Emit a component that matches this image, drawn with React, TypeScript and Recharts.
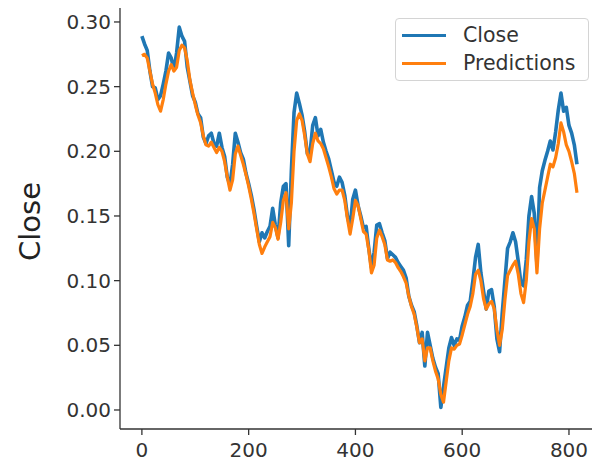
import React from 'react';
import { LineChart, Line, XAxis, YAxis, Legend } from 'recharts';

// Close values sampled every 5 index steps (0, 5, 10, ... 815)
const closeValues = [
  0.289, 0.283, 0.278, 0.262, 0.250, 0.249, 0.240, 0.243, 0.252, 0.262,
  0.276, 0.272, 0.263, 0.276, 0.296, 0.289, 0.285, 0.265, 0.254, 0.243,
  0.238, 0.229, 0.226, 0.211, 0.206, 0.212, 0.214, 0.206, 0.204, 0.214,
  0.203, 0.196, 0.180, 0.174, 0.190, 0.214, 0.207, 0.199, 0.194, 0.183,
  0.175, 0.166, 0.155, 0.142, 0.130, 0.137, 0.133, 0.138, 0.142, 0.156,
  0.143, 0.133, 0.160, 0.173, 0.175, 0.127, 0.185, 0.230, 0.245, 0.237,
  0.228, 0.215, 0.198, 0.199, 0.220, 0.226, 0.212, 0.217, 0.207, 0.200,
  0.194, 0.185, 0.176, 0.173, 0.180, 0.176, 0.166, 0.150, 0.141, 0.163,
  0.170, 0.158, 0.150, 0.141, 0.142, 0.125, 0.110, 0.122, 0.143, 0.144,
  0.137, 0.131, 0.117, 0.122, 0.120, 0.118, 0.114, 0.111, 0.108, 0.102,
  0.088, 0.081, 0.076, 0.065, 0.052, 0.060, 0.034, 0.060, 0.050, 0.040,
  0.033, 0.028, 0.002, 0.018, 0.033, 0.048, 0.056, 0.050, 0.055, 0.054,
  0.065, 0.072, 0.081, 0.084, 0.100, 0.118, 0.128, 0.106, 0.092, 0.078,
  0.092, 0.093, 0.080, 0.055, 0.045, 0.075, 0.100, 0.125, 0.130, 0.137,
  0.130, 0.115, 0.098, 0.096, 0.116, 0.150, 0.165, 0.152, 0.112, 0.172,
  0.185, 0.193, 0.200, 0.208, 0.201, 0.215, 0.232, 0.245, 0.231, 0.234,
  0.220, 0.214, 0.205, 0.190,
];

const predictionValues = [
  0.274, 0.275, 0.272, 0.262, 0.252, 0.245, 0.236, 0.231, 0.240, 0.252,
  0.262, 0.267, 0.262, 0.265, 0.278, 0.282, 0.280, 0.270, 0.255, 0.245,
  0.236, 0.228, 0.222, 0.212, 0.205, 0.204, 0.207, 0.203, 0.199, 0.203,
  0.200, 0.192, 0.180, 0.170, 0.178, 0.198, 0.204, 0.197, 0.190, 0.182,
  0.173, 0.163, 0.152, 0.140, 0.128, 0.121, 0.126, 0.130, 0.134, 0.145,
  0.141, 0.132, 0.145, 0.162, 0.168, 0.140, 0.160, 0.200, 0.224, 0.229,
  0.224, 0.212, 0.198, 0.192, 0.206, 0.214, 0.208, 0.206, 0.202, 0.195,
  0.188, 0.180, 0.171, 0.167, 0.170, 0.170, 0.162, 0.148, 0.136, 0.148,
  0.162, 0.158, 0.148, 0.138, 0.136, 0.124, 0.106, 0.112, 0.133, 0.139,
  0.134, 0.128, 0.116, 0.115, 0.116, 0.114, 0.110, 0.107, 0.103, 0.098,
  0.088, 0.080, 0.074, 0.064, 0.052, 0.055, 0.038, 0.048, 0.048, 0.038,
  0.030, 0.024, 0.012, 0.006, 0.022, 0.038, 0.048, 0.047, 0.050, 0.051,
  0.058, 0.066, 0.074, 0.080, 0.090, 0.105, 0.108, 0.100, 0.086, 0.078,
  0.082, 0.084, 0.078, 0.062, 0.050, 0.062, 0.085, 0.104, 0.108, 0.112,
  0.115, 0.105, 0.090, 0.083, 0.100, 0.130, 0.148, 0.140, 0.106, 0.140,
  0.160, 0.170, 0.180, 0.190, 0.188, 0.195, 0.206, 0.222, 0.215, 0.205,
  0.200, 0.192, 0.183, 0.168,
];

const sampleStep = 5;
const xTicks = [0, 200, 400, 600, 800];
const yTicks = [0, 0.05, 0.1, 0.15, 0.2, 0.25, 0.3];
const seriesNames = ['Close', 'Predictions'];
const seriesColors = ['#1f77b4', '#ff7f0e'];
const yAxisTitle = 'Close';

const data = closeValues.map((c, i) => ({
  idx: i * sampleStep,
  Close: c,
  Predictions: predictionValues[i],
}));

const FONT = '"DejaVu Sans", sans-serif';
const AXIS = '#333333';

const LegendBox = () => (
  <div
    style={{
      width: 194,
      height: 63,
      boxSizing: 'border-box',
      border: '1px solid #d4d4d4',
      borderRadius: 4,
      background: 'rgba(255,255,255,0.85)',
      fontFamily: FONT,
      fontSize: 20.5,
      color: '#333',
      padding: '2px 0 0 6px',
    }}
  >
    {seriesNames.map((n, i) => (
      <div key={n} style={{ display: 'flex', alignItems: 'center', height: 28 }}>
        <div style={{ width: 44, height: 3, background: seriesColors[i], marginRight: 17 }} />
        <span>{n}</span>
      </div>
    ))}
  </div>
);

const YTitle = (props: any) => {
  const vb = props.viewBox || { x: 0, y: 0, width: 120, height: 421 };
  const cx = 30;
  const cy = vb.y + vb.height / 2 + 3;
  return (
    <text
      x={cx}
      y={cy}
      transform={`rotate(-90, ${cx}, ${cy})`}
      textAnchor="middle"
      dominantBaseline="central"
      fontFamily={FONT}
      fontSize={29}
      fill="#222"
    >
      {yAxisTitle}
    </text>
  );
};

export default function App() {
  return (
    <div
      style={{
        position: 'absolute',
        left: 0,
        top: 0,
        width: 592,
        height: 464,
        overflow: 'hidden',
        background: '#fff',
      }}
    >
      <LineChart
        width={610}
        height={464}
        data={data}
        margin={{ top: 8, right: 9, bottom: 5, left: 0 }}
      >
        <XAxis
          dataKey="idx"
          type="number"
          domain={[-41, 860]}
          allowDataOverflow
          ticks={xTicks}
          height={30}
          tickSize={6}
          tickMargin={8}
          stroke={AXIS}
          axisLine={{ stroke: AXIS, strokeWidth: 1.3 }}
          tickLine={{ stroke: AXIS, strokeWidth: 1.3 }}
          tick={{ fill: '#333', fontSize: 20, fontFamily: FONT }}
        />
        <XAxis
          xAxisId="top"
          dataKey="idx"
          type="number"
          domain={[-41, 860]}
          allowDataOverflow
          orientation="top"
          height={0}
          tick={false}
          tickLine={false}
          axisLine={{ stroke: AXIS, strokeWidth: 1.3 }}
        />
        <YAxis
          type="number"
          domain={[-0.0147, 0.3108]}
          allowDataOverflow
          ticks={yTicks}
          width={120}
          tickSize={6}
          tickMargin={3}
          tickFormatter={(v: number) => v.toFixed(2)}
          axisLine={{ stroke: AXIS, strokeWidth: 1.3 }}
          tickLine={{ stroke: AXIS, strokeWidth: 1.3 }}
          tick={{ fill: '#333', fontSize: 20, fontFamily: FONT }}
          label={<YTitle />}
        />
        <Legend
          align="center"
          verticalAlign="middle"
          content={() => <LegendBox />}
          wrapperStyle={{ position: 'absolute', left: 395, top: 18, width: 194, height: 63 }}
        />
        <Line
          type="linear"
          dataKey="Close"
          name={seriesNames[0]}
          stroke={seriesColors[0]}
          strokeWidth={3.6}
          strokeLinejoin="round"
          dot={false}
          isAnimationActive={false}
        />
        <Line
          type="linear"
          dataKey="Predictions"
          name={seriesNames[1]}
          stroke={seriesColors[1]}
          strokeWidth={3.2}
          strokeLinejoin="round"
          dot={false}
          isAnimationActive={false}
        />
      </LineChart>
    </div>
  );
}
